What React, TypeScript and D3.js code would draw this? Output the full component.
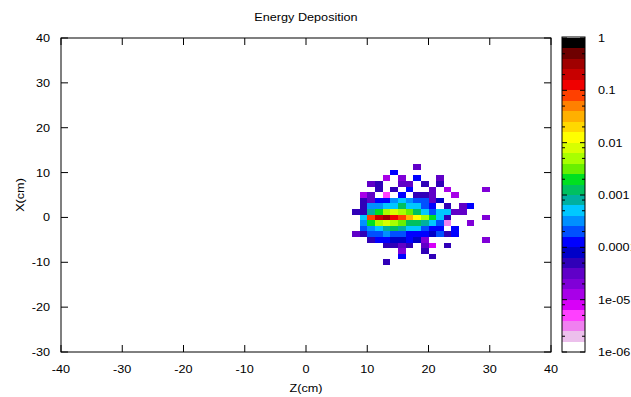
import React from "react";
import * as d3 from "d3";

// ---------- data ----------
const chartTitle = "Energy Deposition";
const zAxisTitle = "Z(cm)";
const xAxisTitle = "X(cm)";
const zTickValues = [-40, -30, -20, -10, 0, 10, 20, 30, 40];
const xTickValues = [-30, -20, -10, 0, 10, 20, 30, 40];
const cbMajorValues = [1e-6, 1e-5, 1e-4, 1e-3, 1e-2, 1e-1, 1];
const cbTickLabels = ["1e-06", "1e-05", "0.0001", "0.001", "0.01", "0.1", "1"];
const cbMinorFactors = [2, 5, 8];
const binSize = 1.25;
// bin centres (cm)
const zCenters = [8.125, 9.375, 10.625, 11.875, 13.125, 14.375, 15.625, 16.875, 18.125,
  19.375, 20.625, 21.875, 23.125, 24.375, 25.625, 26.875, 28.125, 29.375];
const xCenters = [11.25, 10, 8.75, 7.5, 6.25, 5, 3.75, 2.5, 1.25, 0, -1.25, -2.5, -3.75,
  -5, -6.25, -7.5, -8.75, -10];
const _ = null;
// log10 of deposited energy (relative), rows follow xCenters, columns follow zCenters
const log10Energy: (number | null)[][] = [
  [_, _, _, _, _, _, _, _, -4.6, _, _, _, _, _, _, _, _, _],
  [_, _, _, _, _, -4.0, _, _, _, _, _, _, _, _, _, _, _, _],
  [_, _, _, _, -4.9, _, -4.7, _, -3.9, _, _, -4.6, _, _, _, _, _, _],
  [_, _, -4.6, -4.3, _, _, -4.6, -4.6, _, -4.3, _, -4.4, _, _, _, _, _, _],
  [_, _, _, -4.3, _, -4.3, _, -4.0, _, _, -4.6, _, -5.0, _, _, _, _, -4.7],
  [_, -4.9, -4.6, _, -5.3, _, -4.0, _, -4.3, -4.3, -4.6, _, _, -4.9, _, _, _, _],
  [_, -4.4, -4.6, -3.9, -3.9, -3.5, -3.4, -3.5, -3.8, -3.7, -4.5, -4.1, _, _, _, _, _, _],
  [_, -4.3, -3.5, -3.5, -3.3, -3.3, -2.9, -3.3, -3.3, -3.7, -3.9, _, -4.3, _, -4.6, -4.0, _, _],
  [-4.3, -4.4, -3.1, -2.7, -2.3, -2.2, -2.3, -2.6, -2.9, -3.3, -3.8, -3.4, -3.4, -4.6, -4.6, _, _, _],
  [_, -3.3, -1.1, -0.7, -0.5, -0.9, -1.2, -1.6, -1.9, -2.3, -2.7, -3.3, -4.3, _, _, _, _, -4.7],
  [_, -3.5, -2.7, -2.3, -2.2, -2.4, -2.6, -2.9, -3.0, -3.1, -3.3, -3.8, -5.5, _, _, -4.7, _, _],
  [_, -3.8, -3.5, -3.3, -3.1, -3.0, -3.1, -3.3, -3.3, -3.8, -3.9, -4.0, _, -3.9, _, _, _, _],
  [-4.6, -4.3, -3.8, -3.7, -3.5, -3.7, -3.8, -4.0, -3.9, -3.9, -4.1, -3.7, -4.3, -4.0, _, _, _, _],
  [_, _, -4.3, -4.0, -4.0, -4.1, -4.2, -4.0, -4.1, -4.8, _, _, _, _, _, _, _, -4.7],
  [_, _, _, _, -4.3, -4.3, -4.6, -4.3, _, -4.5, -5.1, _, -4.4, _, _, _, _, _],
  [_, _, _, _, _, _, -4.7, _, _, -4.4, _, _, _, _, _, _, _, _],
  [_, _, _, _, _, _, -3.9, _, _, _, -4.4, _, _, _, _, _, _, _],
  [_, _, _, _, -4.3, _, _, _, _, _, _, _, _, _, _, _, _, _],
];
// palette, from 1e-6 (bottom) to 1 (top), 30 steps
const palette = [
  "#ffffff", "#ecc0ec", "#f080f0", "#ff40ff", "#d800f8",
  "#a800e8", "#8000d8", "#6000c8", "#3000b8", "#0000c8",
  "#0000ff", "#0050ff", "#0090ff", "#00c8ff", "#00b0a0",
  "#00c060", "#00e020", "#68f000", "#a8ff00", "#d8ff00",
  "#ffff00", "#ffd800", "#ffb000", "#ff8000", "#ff4000",
  "#f00000", "#c80000", "#a00000", "#6e0000", "#000000",
];

// ---------- layout ----------
const W = 631, H = 397;
const L = 61, R = 551, T = 38, B = 352;
const CBL = 562, CBR = 585;
const FONT = "'Liberation Sans', Arial, Helvetica, sans-serif";
const FS = 11;
const SX = 1.15;

function Txt({ x, y, anchor, children, rotate }: any) {
  const tr = rotate
    ? `translate(${x},${y}) rotate(${rotate}) scale(${SX},1)`
    : `translate(${x},${y}) scale(${SX},1)`;
  return (
    <text transform={tr} textAnchor={anchor} fontFamily={FONT} fontSize={FS} fill="#000">
      {children}
    </text>
  );
}

export default function App() {
  const zs = d3.scaleLinear().domain([-40, 40]).range([L, R]);
  const xs = d3.scaleLinear().domain([-30, 40]).range([B, T]);
  const cb = d3.scaleLog().domain([1e-6, 1]).range([B, T]);
  const color = d3.scaleQuantize<string>().domain([-6, 0]).range(palette);
  const steps = d3.range(palette.length).map((k) => -6 + (6 * k) / palette.length);
  const tickLen = 7;

  const cells: any[] = [];
  log10Energy.forEach((row, r) => {
    row.forEach((v, c) => {
      if (v === null) return;
      const z0 = zCenters[c] - binSize / 2, z1 = zCenters[c] + binSize / 2;
      const x0 = xCenters[r] - binSize / 2, x1 = xCenters[r] + binSize / 2;
      cells.push(
        <rect key={`${r}-${c}`} x={zs(z0)} y={xs(x1)} width={zs(z1) - zs(z0)}
          height={xs(x0) - xs(x1)} fill={color(v)} />
      );
    });
  });

  const minor: number[] = [];
  cbMajorValues.slice(0, -1).forEach((d) => cbMinorFactors.forEach((f) => minor.push(d * f)));

  return (
    <svg width={W} height={H} style={{ position: "absolute", left: 0, top: 0, background: "#fff" }}>
      <rect x={0} y={0} width={W} height={H} fill="#fff" />
      <g shapeRendering="crispEdges">{cells}</g>
      {/* frame */}
      <rect x={L} y={T} width={R - L} height={B - T} fill="none" stroke="#000" strokeWidth={1} />
      {zTickValues.map((t) => (
        <g key={"z" + t}>
          <line x1={zs(t)} x2={zs(t)} y1={B} y2={B - tickLen} stroke="#000" />
          <line x1={zs(t)} x2={zs(t)} y1={T} y2={T + tickLen} stroke="#000" />
          <Txt x={zs(t)} y={B + 21} anchor="middle">{String(t)}</Txt>
        </g>
      ))}
      {xTickValues.map((t) => (
        <g key={"x" + t}>
          <line x1={L} x2={L + tickLen} y1={xs(t)} y2={xs(t)} stroke="#000" />
          <line x1={R} x2={R - tickLen} y1={xs(t)} y2={xs(t)} stroke="#000" />
          <Txt x={L - 11} y={xs(t) + 4} anchor="end">{String(t)}</Txt>
        </g>
      ))}
      <Txt x={(L + R) / 2} y={392} anchor="middle">{zAxisTitle}</Txt>
      <Txt x={24} y={(T + B) / 2} anchor="middle" rotate={-90}>{xAxisTitle}</Txt>
      <Txt x={(L + R) / 2} y={21} anchor="middle">{chartTitle}</Txt>
      {/* colour box */}
      <g shapeRendering="crispEdges">
        {steps.map((s, k) => (
          <rect key={"cb" + k} x={CBL} width={CBR - CBL}
            y={cb(Math.pow(10, s + 6 / palette.length))}
            height={cb(Math.pow(10, s)) - cb(Math.pow(10, s + 6 / palette.length))}
            fill={palette[k]} />
        ))}
      </g>
      <rect x={CBL} y={T - 1} width={CBR - CBL} height={B - T + 1} fill="none" stroke="#000" />
      {minor.map((v, k) => (
        <g key={"mn" + k}>
          <line x1={CBL} x2={CBL + 3} y1={cb(v)} y2={cb(v)} stroke="#000" />
          <line x1={CBR} x2={CBR - 3} y1={cb(v)} y2={cb(v)} stroke="#000" />
        </g>
      ))}
      {cbMajorValues.map((v, k) => (
        <g key={"mj" + k}>
          <line x1={CBL} x2={CBL + 5} y1={cb(v)} y2={cb(v)} stroke="#000" />
          <line x1={CBR} x2={CBR - 5} y1={cb(v)} y2={cb(v)} stroke="#000" />
          <Txt x={598} y={cb(v) + 4} anchor="start">{cbTickLabels[k]}</Txt>
        </g>
      ))}
    </svg>
  );
}
